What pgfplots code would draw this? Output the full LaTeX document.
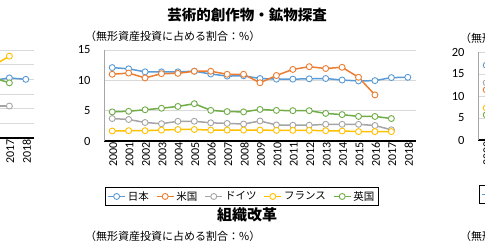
\documentclass[border=0pt]{standalone}
\usepackage{fontspec}
\setmainfont{Carlito}
\newfontfamily\cjk{Noto Sans CJK JP}
\usepackage{pgfplots}
\usepackage{pgfplotstable}
\pgfplotsset{compat=1.18}
\definecolor{cjp}{HTML}{5B9BD5}
\definecolor{cus}{HTML}{ED7D31}
\definecolor{cde}{HTML}{A5A5A5}
\definecolor{cfr}{HTML}{FFC000}
\definecolor{cuk}{HTML}{70AD47}
\definecolor{gridc}{HTML}{D9D9D9}
\definecolor{yaxc}{HTML}{A6A6A6}

\pgfplotstableread{
x jp us de fr uk
0 12.1 11.0 3.7 1.65 4.8
1 11.9 11.2 3.55 1.7 4.9
2 11.4 10.4 3.05 1.7 5.15
3 11.4 11.1 2.85 1.8 5.4
4 11.4 11.15 3.25 1.9 5.7
5 11.5 11.5 3.25 1.9 6.15
6 11.05 11.5 3.0 1.8 5.05
7 10.7 11.0 2.9 1.8 4.85
8 10.75 11.0 2.8 1.8 4.8
9 10.3 9.6 3.3 1.8 5.2
10 10.2 10.8 2.65 1.75 5.05
11 10.2 11.8 2.6 1.75 5.0
12 10.25 12.25 2.6 1.75 5.0
13 10.3 11.95 2.75 1.7 4.55
14 10.05 12.15 2.75 1.65 4.35
15 9.9 10.5 2.75 1.55 4.05
16 9.95 7.6 2.55 1.55 4.05
17 10.45 nan 1.85 1.55 3.7
18 10.5 nan nan nan nan
}\datamid

\pgfplotstableread{
x jp us de fr uk
15 19.4 nan 10.9 22.0 21.5
16 19.6 nan 10.9 24.6 20.6
17 20.5 nan 10.9 27.9 18.8
18 20.0 nan nan nan nan
}\dataleft

\pgfplotstableread{
x jp us de fr uk
0 17.0 11.4 13.0 7.3 5.7
1 16.8 11.5 13.1 7.4 5.8
}\dataright

\pgfplotsset{
  ser/.style={line width=1.5pt, color=#1, mark=*, mark size=3pt,
    mark options={fill=white, draw=#1, line width=0.9pt}},
  base/.style={
    scale only axis, width=312pt,
    xmin=-0.5, xmax=18.5, ymin=0,
    xtick={0,...,18},
    xticklabels={2000,2001,2002,2003,2004,2005,2006,2007,2008,2009,2010,2011,2012,2013,2014,2015,2016,2017,2018},
    /pgf/number format/assume math mode=true,
    x tick label style={rotate=90, anchor=east, inner sep=1pt, yshift=-1pt, font=\fontsize{12}{12}\selectfont},
    y tick label style={xshift=-10pt, font=\fontsize{12.5}{12.5}\selectfont},
    major tick length=0pt,
    ymajorgrids, grid style={color=gridc, line width=0.8pt},
    axis x line*=bottom, axis y line*=left,
    x axis line style={-, black, line width=1.2pt},
    y axis line style={-, yaxc, line width=0.8pt},
    legend columns=5,
    legend style={draw=black, line width=0.7pt, anchor=north,
      font=\cjk\fontsize{10.5}{12}\selectfont, inner sep=2pt,
      /tikz/every even column/.append style={column sep=5pt}},
  },
}

\begin{document}
\begin{tikzpicture}
\useasboundingbox (0pt,0pt) rectangle (485pt,242pt);
\clip (0pt,0pt) rectangle (485pt,242pt);

% left fragment
\begin{axis}[base, at={(-278pt,104pt)}, anchor=south west, height=88pt,
  ymax=30, ytick={0,5,...,30},
  legend style={at={(0.442,-0.52)}}]
\addplot[ser=cjp] table[x=x,y=jp]{\dataleft};
\addplot[ser=cus] table[x=x,y=us]{\dataleft};
\addplot[ser=cde] table[x=x,y=de]{\dataleft};
\addplot[ser=cfr] table[x=x,y=fr]{\dataleft};
\addplot[ser=cuk] table[x=x,y=uk]{\dataleft};
\legend{日本,米国,ドイツ,フランス,英国}
\end{axis}

% centre chart
\begin{axis}[base, at={(104pt,101pt)}, anchor=south west, height=91pt,
  ymax=15, ytick={0,5,10,15},
  legend style={at={(0.442,-0.505)}}]
\addplot[ser=cjp] table[x=x,y=jp]{\datamid};
\addplot[ser=cus] table[x=x,y=us]{\datamid};
\addplot[ser=cde] table[x=x,y=de]{\datamid};
\addplot[ser=cfr] table[x=x,y=fr]{\datamid};
\addplot[ser=cuk] table[x=x,y=uk]{\datamid};
\legend{日本,米国,ドイツ,フランス,英国}
\end{axis}

% right fragment
\begin{axis}[base, at={(478pt,102pt)}, anchor=south west, height=88pt,
  ymax=20, ytick={0,5,...,20},
  legend style={at={(0.442,-0.51)}}]
\addplot[ser=cjp] table[x=x,y=jp]{\dataright};
\addplot[ser=cus] table[x=x,y=us]{\dataright};
\addplot[ser=cde] table[x=x,y=de]{\dataright};
\addplot[ser=cfr] table[x=x,y=fr]{\dataright};
\addplot[ser=cuk] table[x=x,y=uk]{\dataright};
\legend{日本,米国,ドイツ,フランス,英国}
\end{axis}

\node[font=\cjk\bfseries\fontsize{14.5}{16}\selectfont, inner sep=0pt] at (247pt,227pt) {芸術的創作物・鉱物探査};
\node[anchor=west, font=\cjk\fontsize{11}{12}\selectfont, inner sep=0pt] at (85pt,206pt) {（無形資産投資に占める割合：\%）};
\node[anchor=west, font=\cjk\fontsize{11}{12}\selectfont, inner sep=0pt] at (460pt,204pt) {（無形資産投資に占める割合：\%）};
\node[font=\cjk\bfseries\fontsize{15}{16}\selectfont, inner sep=0pt] at (247pt,27pt) {組織改革};
\node[anchor=west, font=\cjk\fontsize{11}{12}\selectfont, inner sep=0pt] at (85pt,6pt) {（無形資産投資に占める割合：\%）};
\node[anchor=west, font=\cjk\fontsize{11}{12}\selectfont, inner sep=0pt] at (460pt,6pt) {（無形資産投資に占める割合：\%）};
\end{tikzpicture}
\end{document}
